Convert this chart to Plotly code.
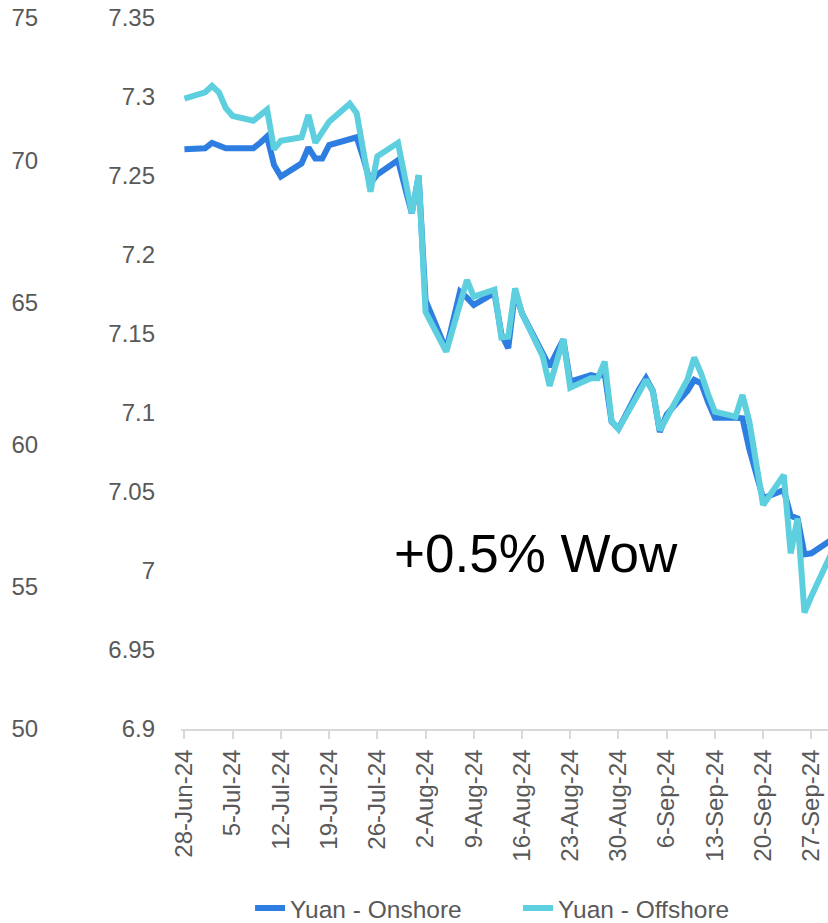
import plotly.graph_objects as go

# ---- data ----
dates = [
    "2024-06-28",
    "2024-07-01", "2024-07-02", "2024-07-03", "2024-07-04", "2024-07-05",
    "2024-07-08", "2024-07-09", "2024-07-10", "2024-07-11", "2024-07-12",
    "2024-07-15", "2024-07-16", "2024-07-17", "2024-07-18", "2024-07-19",
    "2024-07-22", "2024-07-23", "2024-07-24", "2024-07-25", "2024-07-26",
    "2024-07-29", "2024-07-30", "2024-07-31", "2024-08-01", "2024-08-02",
    "2024-08-05", "2024-08-06", "2024-08-07", "2024-08-08", "2024-08-09",
    "2024-08-12", "2024-08-13", "2024-08-14", "2024-08-15", "2024-08-16",
    "2024-08-19", "2024-08-20", "2024-08-21", "2024-08-22", "2024-08-23",
    "2024-08-26", "2024-08-27", "2024-08-28", "2024-08-29", "2024-08-30",
    "2024-09-02", "2024-09-03", "2024-09-04", "2024-09-05", "2024-09-06",
    "2024-09-09", "2024-09-10", "2024-09-11", "2024-09-12", "2024-09-13",
    "2024-09-16", "2024-09-17", "2024-09-18", "2024-09-19", "2024-09-20",
    "2024-09-23", "2024-09-24", "2024-09-25", "2024-09-26", "2024-09-27",
    "2024-09-30",
]

onshore = [
    7.267,
    7.2675, 7.271, 7.2695, 7.2675, 7.2675,
    7.2675, 7.271, 7.275, 7.257, 7.2496,
    7.258, 7.268, 7.261, 7.261, 7.2696,
    7.273, 7.2745, 7.261, 7.2454, 7.251,
    7.260, 7.243, 7.2264, 7.250, 7.1712,
    7.140, 7.160, 7.1768, 7.173, 7.1684,
    7.176, 7.150, 7.141, 7.177, 7.163,
    7.139, 7.1293, 7.138, 7.1465, 7.1198,
    7.124, 7.123, 7.125, 7.0945, 7.0900,
    7.115, 7.122, 7.114, 7.088, 7.099,
    7.114, 7.1209, 7.1188, 7.107, 7.097,
    7.097, 7.0966, 7.077, 7.060, 7.046,
    7.0513, 7.035, 7.0333, 7.0105, 7.0112,
    7.020,
]

offshore = [
    7.299,
    7.303, 7.307, 7.303, 7.293, 7.288,
    7.285, 7.2885, 7.292, 7.267, 7.2723,
    7.2745, 7.2886, 7.2711, 7.278, 7.2844,
    7.2958, 7.2897, 7.265, 7.240, 7.2625,
    7.271, 7.249, 7.2264, 7.2506, 7.164,
    7.1388, 7.155, 7.170, 7.1842, 7.1736,
    7.178, 7.1478, 7.1483, 7.1789, 7.163,
    7.136, 7.1172, 7.132, 7.1468, 7.116,
    7.122, 7.122, 7.1325, 7.0950, 7.0898,
    7.113, 7.121, 7.1135, 7.089, 7.097,
    7.121, 7.1351, 7.125, 7.112, 7.1008,
    7.0977, 7.1114, 7.0945, 7.068, 7.0418,
    7.0608, 7.0112, 7.0333, 6.9737, 6.984,
    7.012,
]

x_tick_vals = ["2024-06-28", "2024-07-05", "2024-07-12", "2024-07-19", "2024-07-26",
               "2024-08-02", "2024-08-09", "2024-08-16", "2024-08-23", "2024-08-30",
               "2024-09-06", "2024-09-13", "2024-09-20", "2024-09-27"]
x_tick_text = ["28-Jun-24", "5-Jul-24", "12-Jul-24", "19-Jul-24", "26-Jul-24",
               "2-Aug-24", "9-Aug-24", "16-Aug-24", "23-Aug-24", "30-Aug-24",
               "6-Sep-24", "13-Sep-24", "20-Sep-24", "27-Sep-24"]

y_tick_vals = [6.9, 6.95, 7.0, 7.05, 7.1, 7.15, 7.2, 7.25, 7.3, 7.35]
y_tick_text = ["6.9", "6.95", "7", "7.05", "7.1", "7.15", "7.2", "7.25", "7.3", "7.35"]

y2_tick_vals = [50, 55, 60, 65, 70, 75]
y2_tick_text = ["50", "55", "60", "65", "70", "75"]

series_names = ["Yuan - Onshore", "Yuan - Offshore"]
annotation_text = "+0.5% Wow"

# ---- styles ----
FONT = "Liberation Sans, Arial, sans-serif"
GREY = "#595959"
AXIS_GREY = "#d9d9d9"
C_ON = "#2E7DE1"
C_OFF = "#5DCFDE"

fig = go.Figure()
fig.add_trace(go.Scatter(x=dates, y=onshore, mode="lines", name=series_names[0],
                         line=dict(color=C_ON, width=6)))
fig.add_trace(go.Scatter(x=dates, y=offshore, mode="lines", name=series_names[1],
                         line=dict(color=C_OFF, width=6)))
# invisible trace so the secondary axis is rendered
fig.add_trace(go.Scatter(x=[dates[0]], y=[None], yaxis="y2", showlegend=False,
                         hoverinfo="skip", mode="lines"))

W, H = 828, 923
x0 = 181 / W

fig.update_layout(
    width=W, height=H,
    margin=dict(l=0, r=0, t=18, b=194, autoexpand=False),
    paper_bgcolor="white", plot_bgcolor="white",
    font=dict(family=FONT, size=24, color=GREY),
    showlegend=True,
    legend=dict(orientation="h", x=0.302, xanchor="left", y=-0.252, yanchor="middle",
                font=dict(family=FONT, size=24.5, color=GREY),
                entrywidth=223, entrywidthmode="pixels",
                bgcolor="rgba(0,0,0,0)"),
    xaxis=dict(
        domain=[x0, 1], automargin=False,
        type="date",
        range=["2024-06-27 12:00", "2024-09-29 10:00"],
        tickmode="array", tickvals=x_tick_vals, ticktext=x_tick_text,
        tickangle=-90,
        ticks="outside", ticklen=8, tickwidth=2, tickcolor=AXIS_GREY,
        showline=True, linecolor=AXIS_GREY, linewidth=2,
        showgrid=False, zeroline=False,
        tickfont=dict(family=FONT, size=24, color=GREY),
        ticklabelstandoff=1,
    ),
    yaxis=dict(
        range=[6.9, 7.35], automargin=False,
        tickmode="array", tickvals=y_tick_vals, ticktext=y_tick_text,
        showgrid=False, zeroline=False, showline=False, ticks="",
        tickfont=dict(family=FONT, size=24, color=GREY),
        ticklabelstandoff=25,
    ),
    yaxis2=dict(
        range=[50, 75], overlaying="y", anchor="free", side="left",
        position=0.046, automargin=False,
        tickmode="array", tickvals=y2_tick_vals, ticktext=y2_tick_text,
        showgrid=False, zeroline=False, showline=False, ticks="",
        tickfont=dict(family=FONT, size=24, color=GREY),
    ),
    annotations=[dict(
        text=annotation_text, x=0.647, y=0.2475, xref="paper", yref="paper",
        xanchor="center", yanchor="middle", showarrow=False,
        font=dict(family=FONT, size=53, color="black"),
    )],
)

fig.write_html("out.html")
